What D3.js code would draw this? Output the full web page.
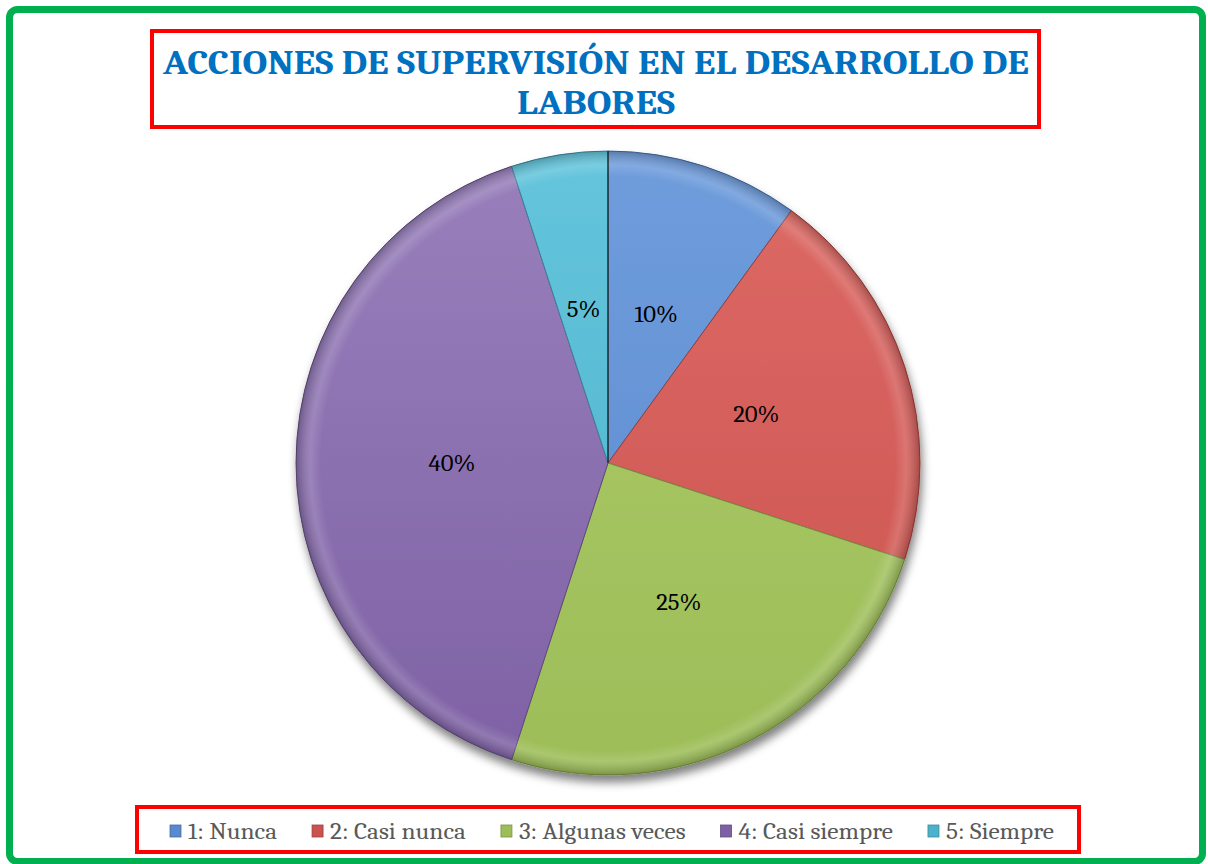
<!DOCTYPE html>
<html><head><meta charset="utf-8">
<script src="https://cdn.jsdelivr.net/npm/d3@7/dist/d3.min.js"></script>
<style>html,body{margin:0;padding:0;background:#fff;}svg{display:block;}</style>
</head><body>
<svg id="chart" width="1208" height="864"></svg>
<script>
const titleLines = ["ACCIONES DE SUPERVISIÓN EN EL DESARROLLO DE", "LABORES"];
const categories = ["1: Nunca", "2: Casi nunca", "3: Algunas veces", "4: Casi siempre", "5: Siempre"];
const values = [10, 20, 25, 40, 5];
const colors = ["#5A89CE", "#CB524E", "#9CBD58", "#7E61A4", "#4CB1CA"];
const lightColors = ["#6F9DDC", "#DD6A66", "#AECC6A", "#9980BC", "#64C5DC"];

const svg = d3.select("#chart");
const W = 1208, H = 864;
const serif = "Cambria, 'Liberation Serif', 'DejaVu Serif', serif";

const defs = svg.append("defs");
const f = defs.append("filter").attr("id","shadow").attr("x","-20%").attr("y","-20%").attr("width","140%").attr("height","140%");
f.append("feGaussianBlur").attr("in","SourceAlpha").attr("stdDeviation",5).attr("result","b");
f.append("feOffset").attr("in","b").attr("dx",2).attr("dy",7).attr("result","o");
f.append("feComponentTransfer").attr("in","o").attr("result","o2")
  .append("feFuncA").attr("type","linear").attr("slope",0.5);
const fm = f.append("feMerge");
fm.append("feMergeNode").attr("in","o2");
fm.append("feMergeNode").attr("in","SourceGraphic");

// outer green frame
svg.append("rect").attr("x",9.5).attr("y",9.5).attr("width",W-15).attr("height",H-12)
  .attr("rx",8).attr("fill","#fff").attr("stroke","#00B050").attr("stroke-width",7);

// title box
svg.append("rect").attr("x",152).attr("y",31).attr("width",887).attr("height",96)
  .attr("fill","#fff").attr("stroke","#FF0000").attr("stroke-width",4);
const titleY = [74, 114];
titleLines.forEach((t,i) => {
  const el = svg.append("text").attr("text-anchor","middle").attr("fill","#0070C0")
    .attr("font-family",serif).attr("font-weight","bold").attr("font-size",35)
    .attr("x",596).attr("y",titleY[i]).text(t);
  el.attr("textLength", i === 0 ? 866 : 158).attr("lengthAdjust","spacingAndGlyphs");
});

// pie
const cx = 608, cy = 463, R = 312;
const pie = d3.pie().value(d => d).sort(null);
const arcs = pie(values);
const arc = d3.arc().innerRadius(0).outerRadius(R);
const g = svg.append("g").attr("transform",`translate(${cx},${cy})`);

colors.forEach((c,i) => {
  const lg = defs.append("linearGradient").attr("id","grad"+i)
    .attr("gradientUnits","userSpaceOnUse").attr("x1",0).attr("y1",-R).attr("x2",0).attr("y2",R);
  lg.append("stop").attr("offset","0%").attr("stop-color",lightColors[i]);
  lg.append("stop").attr("offset","100%").attr("stop-color",c);
  const rg = defs.append("radialGradient").attr("id","bev"+i)
    .attr("gradientUnits","userSpaceOnUse").attr("cx",0).attr("cy",0).attr("r",R);
  rg.append("stop").attr("offset","0%").attr("stop-color","#fff").attr("stop-opacity",0);
  rg.append("stop").attr("offset","92%").attr("stop-color","#fff").attr("stop-opacity",0);
  rg.append("stop").attr("offset","95.5%").attr("stop-color","#fff").attr("stop-opacity",0.14);
  rg.append("stop").attr("offset","100%").attr("stop-color","#000").attr("stop-opacity",0.22);
});

const pg = g.append("g").attr("filter","url(#shadow)");
pg.selectAll("path.slice").data(arcs).enter().append("path").attr("class","slice")
  .attr("d",arc).attr("fill",(d,i)=>`url(#grad${i})`)
  .attr("stroke",(d,i)=>d3.color(colors[i]).darker(0.8)).attr("stroke-width",1).attr("stroke-linejoin","round");
g.selectAll("path.bevel").data(arcs).enter().append("path").attr("class","bevel")
  .attr("d",arc).attr("fill",(d,i)=>`url(#bev${i})`).attr("pointer-events","none");
g.append("path").attr("d",d3.line()([[0,0],[0,-R]])).attr("stroke","#1a1a1a").attr("stroke-width",1.2);

const tot = d3.sum(values);
g.selectAll("text.lbl").data(arcs).enter().append("text").attr("class","lbl")
  .attr("transform",d=>`translate(${arc.centroid(d)})`)
  .attr("text-anchor","middle").attr("dy","0.35em")
  .attr("font-family",serif).attr("font-size",22).attr("fill","#000")
  .text(d=>Math.round(d.value/tot*100)+"%")
  .each(function(){ const w=this.getComputedTextLength(); d3.select(this).attr("textLength",w*1.12).attr("lengthAdjust","spacingAndGlyphs"); });

// legend
svg.append("rect").attr("x",137).attr("y",807).attr("width",942).attr("height",45)
  .attr("fill","#fff").attr("stroke","#FF0000").attr("stroke-width",4);
const lgd = svg.append("g");
const items = lgd.selectAll("g.item").data(categories).enter().append("g").attr("class","item");
items.append("rect").attr("width",11).attr("height",12).attr("y",-14)
  .attr("fill",(d,i)=>colors[i]).attr("stroke",(d,i)=>d3.color(colors[i]).darker(0.7)).attr("stroke-width",0.8);
items.append("text").attr("x",18).attr("y",0).attr("font-family",serif).attr("font-size",23).attr("fill","#595959").text(d=>d);
const gap = 35, legendSpan = 884, sq = 18;
const nat = [];
items.each(function(){ nat.push(d3.select(this).select("text").node().getComputedTextLength()); });
const scale = (legendSpan - gap*(nat.length-1) - sq*nat.length) / d3.sum(nat);
items.select("text").attr("textLength",(d,i)=>nat[i]*scale).attr("lengthAdjust","spacingAndGlyphs");
let x0 = 608 - legendSpan/2 + 4;
items.attr("transform",(d,i)=>{const t=`translate(${x0},839)`; x0 += sq + nat[i]*scale + gap; return t;});
</script>
</body></html>
